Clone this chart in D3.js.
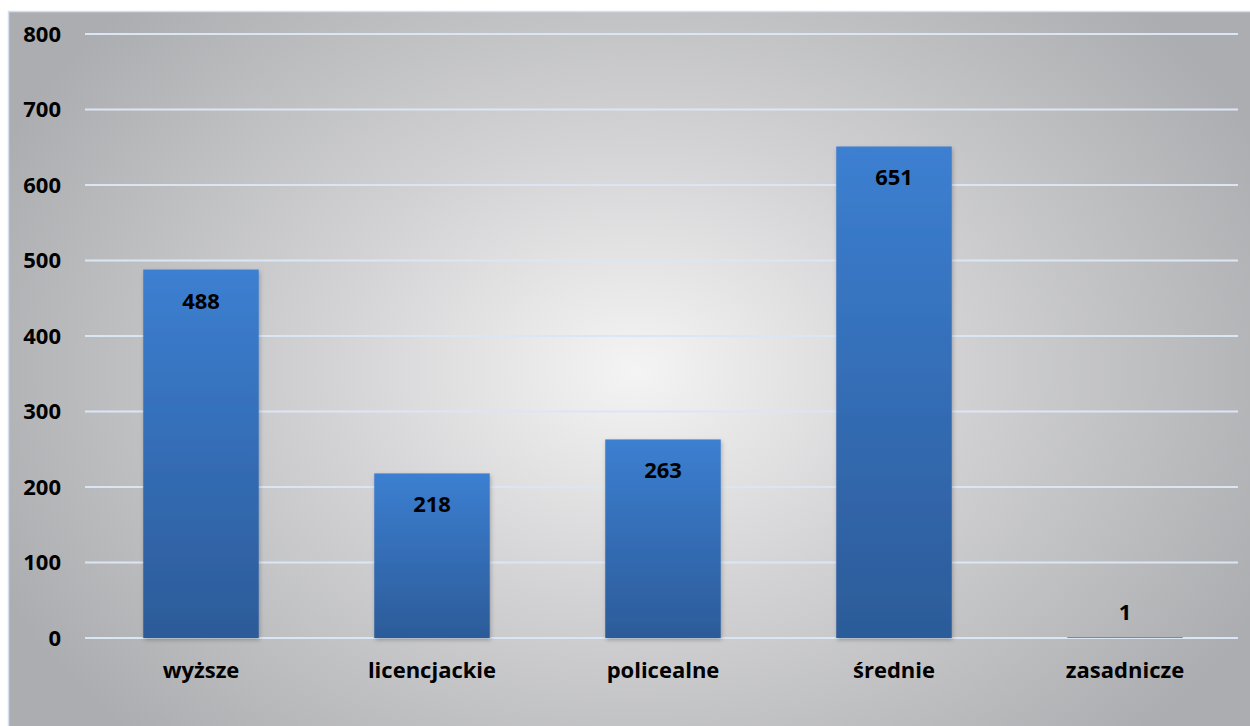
<!DOCTYPE html>
<html>
<head>
<meta charset="utf-8">
<script src="https://cdn.jsdelivr.net/npm/d3@7"></script>
<style>
  body { margin: 0; background: #fff; }
  text { font-family: "Open Sans", "Liberation Sans", sans-serif; font-weight: 700; fill: #000; }
</style>
</head>
<body>
<svg id="chart" width="1250" height="726"></svg>
<script>
// data
var categories = ["wyższe", "licencjackie", "policealne", "średnie", "zasadnicze"];
var values = [488, 218, 263, 651, 1];
var yTicks = [0, 100, 200, 300, 400, 500, 600, 700, 800];

var width = 1250, height = 726;
var svg = d3.select("#chart");
var defs = svg.append("defs");

// background gradient - light centre, grey edges
var bg = defs.append("radialGradient")
  .attr("id", "bgGrad")
  .attr("gradientUnits", "userSpaceOnUse")
  .attr("cx", 635).attr("cy", 370).attr("r", 700)
  .attr("gradientTransform", "translate(635,370) scale(1,0.75) translate(-635,-370)");
bg.append("stop").attr("offset", "0%").attr("stop-color", "#f4f4f4");
bg.append("stop").attr("offset", "45%").attr("stop-color", "#d2d2d4");
bg.append("stop").attr("offset", "100%").attr("stop-color", "#acadb0");

var barGrad = defs.append("linearGradient")
  .attr("id", "barGrad")
  .attr("x1", 0).attr("y1", 0).attr("x2", 0).attr("y2", 1);
barGrad.append("stop").attr("offset", "0%").attr("stop-color", "#3c7fd1");
barGrad.append("stop").attr("offset", "100%").attr("stop-color", "#2c5b99");

var shadow = defs.append("filter").attr("id", "shadow")
  .attr("x", "-10%").attr("y", "-10%").attr("width", "130%").attr("height", "130%");
shadow.append("feDropShadow")
  .attr("dx", 1).attr("dy", 2).attr("stdDeviation", 2)
  .attr("flood-color", "#000").attr("flood-opacity", 0.25);

// chart area
svg.append("rect")
  .attr("x", 8.5).attr("y", 11.5)
  .attr("width", 1250).attr("height", 730)
  .attr("fill", "url(#bgGrad)")
  .attr("stroke", "#d3dff0")
  .attr("stroke-width", 1.5);

var xScale = d3.scaleBand()
  .domain(categories)
  .range([85.5, 1240.5])
  .paddingInner(0.5)
  .paddingOuter(0.25);

var yScale = d3.scaleLinear()
  .domain([0, 800])
  .range([638, 34]);

// gridlines
svg.append("g")
  .selectAll("line")
  .data(yTicks)
  .join("line")
  .attr("x1", 85)
  .attr("x2", 1238)
  .attr("y1", function(d){ return yScale(d); })
  .attr("y2", function(d){ return yScale(d); })
  .attr("stroke", "#dbe6f5")
  .attr("stroke-width", 2);

// y axis labels
var yAxis = d3.axisLeft(yScale).tickValues(yTicks).tickSize(0).tickPadding(0);
var yG = svg.append("g")
  .attr("transform", "translate(61,0)")
  .call(yAxis);
yG.select(".domain").remove();
yG.selectAll("text")
  .style("font-size", "22px")
  .style("font-family", "'Open Sans', sans-serif")
  .style("font-weight", 700)
  .attr("fill", "#000");

// bars
svg.append("g")
  .selectAll("rect")
  .data(values)
  .join("rect")
  .attr("x", function(d, i){ return xScale(categories[i]); })
  .attr("y", function(d){ return yScale(d); })
  .attr("width", xScale.bandwidth())
  .attr("height", function(d){ return yScale(0) - yScale(d); })
  .attr("fill", "url(#barGrad)")
  .attr("filter", function(d){ return yScale(0) - yScale(d) > 3 ? "url(#shadow)" : null; });

// value labels
svg.append("g")
  .selectAll("text")
  .data(values)
  .join("text")
  .attr("x", function(d, i){ return xScale(categories[i]) + xScale.bandwidth() / 2; })
  .attr("y", function(d){
    var h = yScale(0) - yScale(d);
    return h > 40 ? yScale(d) + 39 : yScale(d) - 17;
  })
  .attr("text-anchor", "middle")
  .style("font-size", "22px")
  .text(function(d){ return d; });

// x axis labels
var xAxis = d3.axisBottom(xScale).tickSize(0).tickPadding(0);
var xG = svg.append("g")
  .attr("transform", "translate(0,662)")
  .call(xAxis);
xG.select(".domain").remove();
xG.selectAll("text")
  .style("font-size", "22px")
  .style("font-family", "'Open Sans', sans-serif")
  .style("font-weight", 700)
  .attr("fill", "#000");
</script>
</body>
</html>
